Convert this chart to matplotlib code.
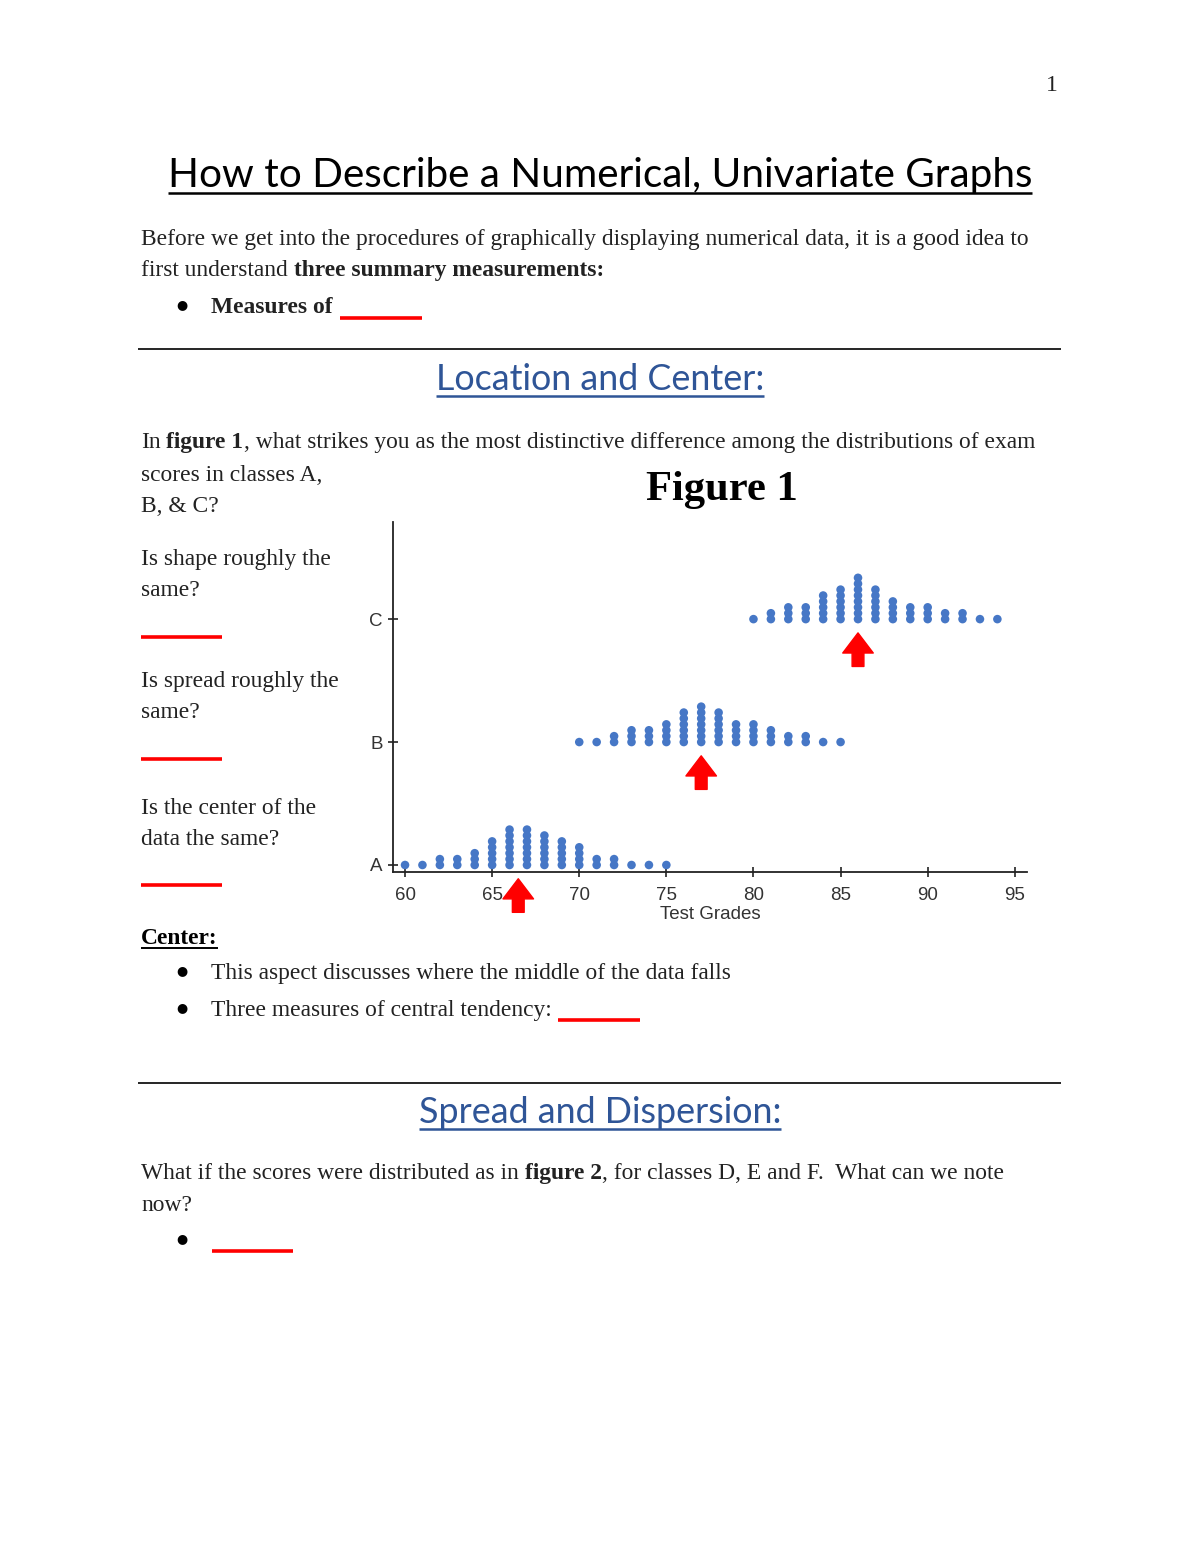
import matplotlib
matplotlib.use('Agg')
import matplotlib.pyplot as plt

# ---------------- data ----------------
grades_A = list(range(60, 76))
counts_A = [1, 1, 2, 2, 3, 5, 7, 7, 6, 5, 4, 2, 2, 1, 1, 1]
grades_B = list(range(70, 86))
counts_B = [1, 1, 2, 3, 3, 4, 6, 7, 6, 4, 4, 3, 2, 2, 1, 1]
grades_C = list(range(80, 95))
counts_C = [1, 2, 3, 3, 5, 6, 8, 6, 4, 3, 3, 2, 2, 1, 1]
classes = ['A', 'B', 'C']
centers = [66.5, 77, 86]
x_ticks = [60, 65, 70, 75, 80, 85, 90, 95]
x_label = 'Test Grades'

W, H = 1200, 1553
SERIF = ['Liberation Serif', 'DejaVu Serif']
SANS = ['Lato', 'DejaVu Sans']
ARIAL = ['Liberation Sans', 'DejaVu Sans']
TXT = '#222222'
BLUE = '#2f5597'
RED = '#ff0000'
DOT = '#4677c6'

fig = plt.figure(figsize=(W / 100, H / 100), dpi=100)
page = fig.add_axes([0, 0, 1, 1])
page.set_xlim(0, W)
page.set_ylim(H, 0)
page.axis('off')
page.patch.set_alpha(0)
renderer = fig.canvas.get_renderer()


def put(x, y, s, size, weight='normal', family=SERIF, color=TXT, ha='left'):
    return page.text(x, y, s, fontsize=size, fontweight=weight, family=family,
                     color=color, ha=ha, va='baseline')


def ext(t):
    bb = t.get_window_extent(renderer)
    return bb.x0, bb.x1


def fit(s, target, weight='normal', family=SERIF, base=20):
    t = put(0, 0, s, base, weight, family)
    x0, x1 = ext(t)
    t.remove()
    return base * target / (x1 - x0)


def space_w(size, weight='normal'):
    a = put(0, 0, 'x x', size, weight)
    b = put(0, 0, 'xx', size, weight)
    w = (ext(a)[1] - ext(a)[0]) - (ext(b)[1] - ext(b)[0])
    a.remove(); b.remove()
    return w


def seg_line(x, y, segs, size):
    for s, w in segs:
        lead = len(s) - len(s.lstrip(' '))
        if lead:
            x += lead * space_w(size, w)
            s = s.lstrip(' ')
        t = put(x, y, s, size, weight=w)
        x = ext(t)[1]
    return x


def hline(x0, x1, y, color, lw):
    page.plot([x0, x1], [y, y], color=color, lw=lw, solid_capstyle='butt')


def bullet(y):
    page.text(182, y - 1, '\u25CF', fontsize=BODY * 0.55, family=['DejaVu Sans'],
              color='black', ha='center', va='center')


BODY = fit('Before we get into the procedures of graphically displaying numerical data, it is a good idea to', 889)

# page number
put(1058, 91, '1', BODY, ha='right')

# title
tsize = fit('How to Describe a Numerical, Univariate Graphs', 865, family=SANS, base=40)
t = put(600, 187, 'How to Describe a Numerical, Univariate Graphs', tsize, family=SANS,
        color='black', ha='center')
x0, x1 = ext(t)
hline(x0, x1, 193, 'black', 1.8)

put(141, 245, 'Before we get into the procedures of graphically displaying numerical data, it is a good idea to', BODY)
seg_line(141, 276, [('first understand', 'normal'), (' three summary measurements:', 'bold')], BODY)

bullet(306)
put(211, 313, 'Measures of', BODY, weight='bold')
hline(340, 422, 318, RED, 2.6)

hline(138, 1061, 349, 'black', 1.2)

hsize = fit('Location and Center:', 329, family=SANS, base=30)
t = put(600, 390, 'Location and Center:', hsize, family=SANS, color=BLUE, ha='center')
x0, x1 = ext(t)
hline(x0, x1, 396, BLUE, 1.8)

seg_line(141, 448, [('In', 'normal'), (' figure 1', 'bold'),
                    (', what strikes you as the most distinctive difference among the distributions of exam', 'normal')], BODY)
put(141, 481, 'scores in classes A,', BODY)
put(141, 512, 'B, & C?', BODY)

fsize = fit('Figure 1', 152, weight='bold', base=30)
put(722, 500, 'Figure 1', fsize, weight='bold', color='black', ha='center')

put(141, 565, 'Is shape roughly the', BODY)
put(141, 596, 'same?', BODY)
hline(141, 222, 637, RED, 2.6)
put(141, 687, 'Is spread roughly the', BODY)
put(141, 718, 'same?', BODY)
hline(141, 222, 759, RED, 2.6)
put(141, 814, 'Is the center of the', BODY)
put(141, 845, 'data the same?', BODY)
hline(141, 222, 885, RED, 2.6)

t = put(141, 944, 'Center:', BODY, weight='bold', color='black')
x0, x1 = ext(t)
hline(x0, x1, 948, 'black', 1.4)
bullet(972)
put(211, 979, 'This aspect discusses where the middle of the data falls', BODY)
bullet(1009)
put(211, 1016, 'Three measures of central tendency:', BODY)
hline(558, 640, 1020, RED, 2.6)

hline(138, 1061, 1083, 'black', 1.2)

t = put(600, 1123, 'Spread and Dispersion:', hsize, family=SANS, color=BLUE, ha='center')
x0, x1 = ext(t)
hline(x0, x1, 1129, BLUE, 1.8)

seg_line(141, 1179, [('What if the scores were distributed as in', 'normal'), (' figure 2', 'bold'),
                     (', for classes D, E and F.  What can we note', 'normal')], BODY)
put(141, 1211, 'now?', BODY)
bullet(1240)
hline(212, 293, 1251, RED, 2.6)

# ---------------- chart ----------------
ax = fig.add_axes([393 / W, 1 - 872 / H, (1027 - 393) / W, (872 - 522) / H])
ax.patch.set_alpha(0)
ax.set_xlim(59.31, 95.7)
ax.set_ylim(-0.057, 2.79)

step = 0.048
for r, (gs, cs) in enumerate([(grades_A, counts_A), (grades_B, counts_B), (grades_C, counts_C)]):
    xs, ys = [], []
    for g, c in zip(gs, cs):
        for k in range(c):
            xs.append(g)
            ys.append(r + k * step)
    ax.scatter(xs, ys, s=38, color=DOT, edgecolors='none', zorder=3, clip_on=False)

for r, cx in enumerate(centers):
    ax.annotate('', xy=(cx, r - 0.112), xytext=(cx, r - 0.385),
                arrowprops=dict(arrowstyle='simple,head_width=2.2,head_length=1.45,tail_width=0.85',
                                color=RED, shrinkA=0, shrinkB=0, mutation_scale=10),
                annotation_clip=False, zorder=5)

for sp in ['top', 'right']:
    ax.spines[sp].set_visible(False)
for sp in ['left', 'bottom']:
    ax.spines[sp].set_color('#222222')
    ax.spines[sp].set_linewidth(1.3)

ax.set_xticks(x_ticks)
ax.set_xticklabels([str(v) for v in x_ticks], family=ARIAL)
ax.set_yticks(range(len(classes)))
ax.set_yticklabels(classes, family=ARIAL)
ax.tick_params(direction='inout', length=7, width=1.2, color='#222222',
               labelsize=13.5, labelcolor='#333333')
ax.tick_params(axis='x', pad=7)
ax.tick_params(axis='y', pad=4)
ax.set_xlabel(x_label, fontsize=13.5, family=ARIAL, color='#333333', labelpad=2)

fig.savefig('out.png', dpi=100)
